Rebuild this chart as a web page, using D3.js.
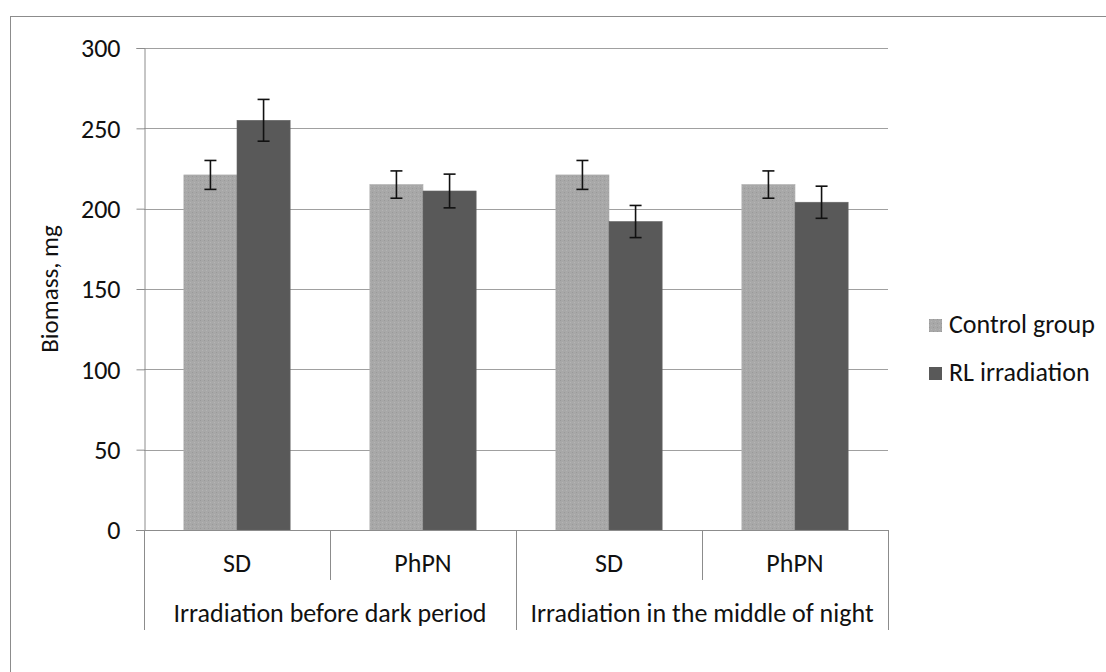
<!DOCTYPE html>
<html>
<head>
<meta charset="utf-8">
<script src="https://cdn.jsdelivr.net/npm/d3@7"></script>
<style>
  body { margin: 0; background: #fff; }
  text { font-family: Carlito, Calibri, Lato, "Open Sans", sans-serif; fill: #111; }
</style>
</head>
<body>
<div id="viz"></div>
<script>
// chart data
const groups = ["Irradiation before dark period", "Irradiation in the middle of night"];
const subCategories = ["SD", "PhPN", "SD", "PhPN"];
const seriesNames = ["Control group", "RL irradiation"];
const controlValues = [221, 215, 221, 215];
const controlErrors = [9, 8.5, 9, 8.5];
const rlValues = [255, 211, 192, 204];
const rlErrors = [13, 10.5, 10, 10];
const yTicks = [0, 50, 100, 150, 200, 250, 300];

const width = 1106, height = 672;
const plot = { left: 144, right: 888, top: 48, bottom: 530 };
const colors = ["#a6a6a6", "#595959"];
const fontSize = 26;

const svg = d3.select("#viz").append("svg")
  .attr("width", width)
  .attr("height", height);

// stipple texture for the control bars
const pat = svg.append("defs").append("pattern")
  .attr("id", "stipple")
  .attr("width", 4).attr("height", 4)
  .attr("patternUnits", "userSpaceOnUse");
pat.append("rect").attr("width", 4).attr("height", 4).attr("fill", "#a8a8a8");
pat.append("rect").attr("x", 0).attr("y", 0).attr("width", 1).attr("height", 1).attr("fill", "#999");
pat.append("rect").attr("x", 2).attr("y", 2).attr("width", 1).attr("height", 1).attr("fill", "#b4b4b4");

// outer chart border (runs off the picture right and bottom)
svg.append("rect")
  .attr("x", 10.5).attr("y", 16.5)
  .attr("width", 1200).attr("height", 800)
  .attr("fill", "none")
  .attr("stroke", "#8c8c8c")
  .attr("stroke-width", 1);

const y = d3.scaleLinear().domain([0, 300]).range([plot.bottom, plot.top]);
const x = d3.scaleBand()
  .domain(d3.range(subCategories.length))
  .range([plot.left, plot.right])
  .paddingInner(0).paddingOuter(0);
const inner = d3.scaleBand()
  .domain([0, 1])
  .range([0, x.bandwidth()])
  .paddingOuter(0.75)
  .paddingInner(0);

// gridlines
svg.append("g")
  .selectAll("line")
  .data(yTicks.filter(d => d > 0))
  .enter().append("line")
  .attr("x1", plot.left).attr("x2", plot.right)
  .attr("y1", d => Math.round(y(d)) + 0.5)
  .attr("y2", d => Math.round(y(d)) + 0.5)
  .attr("stroke", "#a0a0a0");

// y axis
const yAxis = svg.append("g")
  .attr("transform", `translate(${plot.left + 0.5},0)`)
  .call(d3.axisLeft(y).tickValues(yTicks).tickSize(8).tickPadding(16));
yAxis.attr("font-size", fontSize).attr("font-family", null);
yAxis.select(".domain").attr("stroke", "#8c8c8c");
yAxis.selectAll(".tick line").attr("stroke", "#8c8c8c");
yAxis.selectAll(".tick text")
  .attr("fill", "#111")
  .attr("dy", "0.34em");

svg.append("text")
  .attr("transform", `translate(58,${(plot.top + plot.bottom) / 2}) rotate(-90)`)
  .attr("text-anchor", "middle")
  .attr("font-size", 25)
  .text("Biomass, mg");

// bars
const barData = [];
subCategories.forEach((c, i) => {
  barData.push({ i: i, s: 0, v: controlValues[i], e: controlErrors[i] });
  barData.push({ i: i, s: 1, v: rlValues[i], e: rlErrors[i] });
});

svg.append("g")
  .selectAll("rect")
  .data(barData)
  .enter().append("rect")
  .attr("x", d => x(d.i) + inner(d.s))
  .attr("y", d => y(d.v))
  .attr("width", inner.bandwidth())
  .attr("height", d => y(0) - y(d.v))
  .attr("fill", d => d.s === 0 ? "url(#stipple)" : colors[1])
  .attr("stroke", d => d.s === 0 ? "#b0b0b0" : "#666")
  .attr("stroke-width", 0.6);

// error bars
const err = svg.append("g")
  .attr("stroke", "#111")
  .attr("stroke-width", 1.6)
  .selectAll("g")
  .data(barData)
  .enter().append("g")
  .attr("transform", d => `translate(${x(d.i) + inner(d.s) + inner.bandwidth() / 2},0)`);
err.append("line")
  .attr("y1", d => y(d.v + d.e)).attr("y2", d => y(d.v - d.e));
err.append("line")
  .attr("x1", -6).attr("x2", 6)
  .attr("y1", d => y(d.v + d.e)).attr("y2", d => y(d.v + d.e));
err.append("line")
  .attr("x1", -6).attr("x2", 6)
  .attr("y1", d => y(d.v - d.e)).attr("y2", d => y(d.v - d.e));

// category axis
const xa = svg.append("g").attr("stroke", "#8c8c8c");
xa.append("line")
  .attr("x1", plot.left - 8).attr("x2", plot.right)
  .attr("y1", plot.bottom + 0.5).attr("y2", plot.bottom + 0.5);
d3.range(subCategories.length + 1).forEach(i => {
  const xp = i < subCategories.length ? x(i) : plot.right;
  const full = i % 2 === 0;
  xa.append("line")
    .attr("x1", Math.round(xp) + 0.5).attr("x2", Math.round(xp) + 0.5)
    .attr("y1", plot.bottom)
    .attr("y2", full ? 630 : 580);
});

svg.append("g")
  .selectAll("text")
  .data(subCategories)
  .enter().append("text")
  .attr("x", (d, i) => x(i) + x.bandwidth() / 2)
  .attr("y", 572)
  .attr("text-anchor", "middle")
  .attr("font-size", fontSize)
  .text(d => d);

svg.append("g")
  .selectAll("text")
  .data(groups)
  .enter().append("text")
  .attr("x", (d, i) => x(i * 2) + x.bandwidth())
  .attr("y", 622)
  .attr("text-anchor", "middle")
  .attr("font-size", fontSize)
  .text(d => d);

// legend
const leg = svg.append("g")
  .selectAll("g")
  .data(seriesNames)
  .enter().append("g")
  .attr("transform", (d, i) => `translate(929,${319 + i * 48})`);
leg.append("rect")
  .attr("width", 13).attr("height", 13)
  .attr("fill", (d, i) => i === 0 ? "url(#stipple)" : colors[1]);
leg.append("text")
  .attr("x", 20).attr("y", 14)
  .attr("font-size", fontSize)
  .text(d => d);
</script>
</body>
</html>
